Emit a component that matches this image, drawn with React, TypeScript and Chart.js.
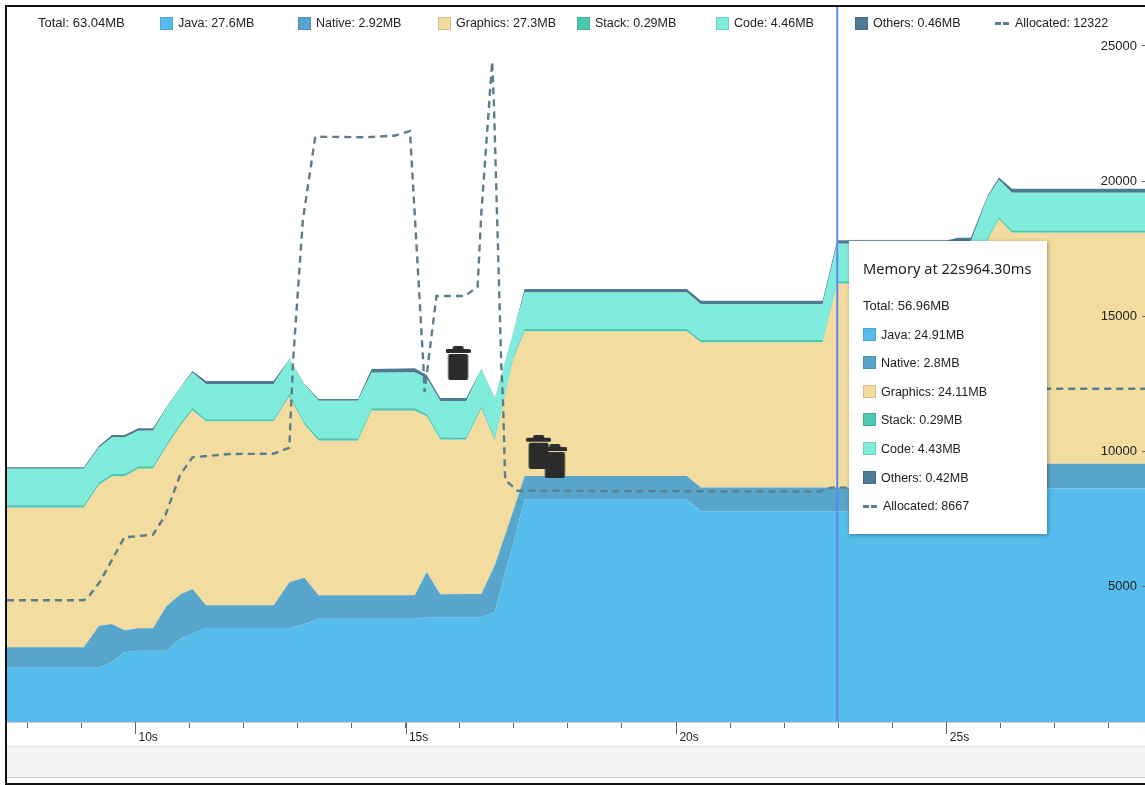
import React, { useEffect, useRef } from "react";
import { Chart, registerables } from "chart.js";

Chart.register(...registerables);

// Time axis, seconds
const X_MIN = 7.63;
const X_MAX = 28.67;
const xTickValues = [8, 9, 10, 11, 12, 13, 14, 15, 16, 17, 18, 19, 20, 21, 22, 23, 24, 25, 26, 27, 28];
const majorTickValues = [10, 15, 20, 25];
const allocTickValues = [5000, 10000, 15000, 20000, 25000];
const MEMORY_MAX = 84.52;
const ALLOC_MAX = 26442;
const cursorTime = 22.98;

// Memory samples, seconds and MB
const times = [7.63, 9.05, 9.33, 9.57, 9.8, 10.06, 10.33, 10.58, 10.84, 11.06, 11.31, 12.56, 12.85, 13.13, 13.39, 14.12, 14.37, 15.17, 15.39, 15.64, 16.12, 16.4, 16.65, 16.99, 17.2, 20.2, 20.46, 22.71, 22.98, 25.02, 25.21, 25.45, 25.76, 25.97, 26.21, 28.67];
const javaMB = [6.42, 6.42, 6.42, 7.13, 8.24, 8.43, 8.43, 8.43, 9.85, 10.44, 11.11, 11.11, 11.11, 11.55, 12.21, 12.21, 12.21, 12.21, 12.33, 12.33, 12.33, 12.33, 13.04, 21.16, 26.28, 26.28, 24.91, 24.91, 24.91, 24.91, 24.91, 24.91, 27.6, 27.6, 27.6, 27.6];
const nativeMB = [2.41, 2.41, 4.96, 4.46, 2.6, 2.65, 2.65, 5.28, 5.25, 5.28, 2.68, 2.68, 5.4, 5.51, 2.77, 2.77, 2.77, 2.77, 5.4, 2.77, 2.8, 2.8, 5.52, 3.78, 2.8, 2.8, 2.8, 2.8, 2.8, 2.8, 2.8, 2.8, 2.92, 2.92, 2.92, 2.92];
const graphicsMB = [16.49, 16.49, 16.65, 17.43, 18.18, 18.85, 18.85, 18.85, 19.95, 21.1, 21.72, 21.72, 21.96, 18.07, 18.26, 18.26, 21.81, 21.81, 18.38, 18.26, 18.22, 21.89, 14.68, 17.91, 17.08, 17.08, 17.16, 17.16, 24.11, 24.11, 24.11, 24.11, 26.42, 28.9, 27.3, 27.3];
const stackMB = [0.29, 0.29, 0.29, 0.29, 0.29, 0.29, 0.29, 0.29, 0.29, 0.29, 0.29, 0.29, 0.29, 0.29, 0.29, 0.29, 0.29, 0.29, 0.29, 0.29, 0.29, 0.29, 0.29, 0.29, 0.29, 0.29, 0.29, 0.29, 0.29, 0.29, 0.29, 0.29, 0.29, 0.29, 0.29, 0.29];
const codeMB = [4.32, 4.32, 4.1, 4.32, 4.32, 4.2, 4.2, 4.28, 4.16, 4.18, 4.15, 4.15, 4.05, 4.44, 4.45, 4.45, 4.2, 4.24, 4.22, 4.3, 4.3, 4.32, 4.67, 2.79, 4.32, 4.32, 4.23, 4.23, 4.43, 4.43, 4.63, 4.63, 4.77, 4.35, 4.46, 4.46];
const othersMB = [0.18, 0.18, 0.2, 0.3, 0.3, 0.3, 0.3, 0.1, 0.1, 0.2, 0.35, 0.35, 0.1, 0.1, 0.2, 0.2, 0.45, 0.5, 0.4, 0.35, 0.35, 0.1, 0.1, 0.1, 0.42, 0.42, 0.42, 0.42, 0.42, 0.42, 0.5, 0.5, 0.2, 0.3, 0.46, 0.46];

// Allocated objects (right axis)
const allocTimes = [7.63, 9.05, 9.14, 9.35, 9.8, 10.33, 10.56, 10.83, 11.06, 11.75, 12.56, 12.85, 12.92, 13.1, 13.33, 14.23, 14.79, 15.08, 15.33, 15.35, 15.57, 16.1, 16.33, 16.4, 16.6, 16.63, 16.77, 16.8, 16.84, 17.07, 22.64, 22.86, 25.45, 25.76, 28.67];
const allocValues = [4500, 4500, 4634, 5189, 6831, 6927, 7655, 9135, 9789, 9911, 9922, 10144, 13388, 18565, 21646, 21623, 21683, 21856, 13129, 12204, 15754, 15754, 16098, 18824, 24420, 23003, 13129, 11908, 8950, 8554, 8520, 8667, 8667, 12322, 12322];

// Garbage collection events
const gcTimes = [15.97, 17.46, 17.76];
const gcLevels = [13277, 9996, 9650];

const COLORS = {
  java: "#56bcec",
  native: "#58a5cb",
  graphics: "#f3dca0",
  stack: "#4cc8b0",
  code: "#80ecdb",
  others: "#4f7a94",
  alloc: "#5b7d8c",
  cursor: "#5c87ee",
};

const legendItems = [
  { label: "Java: 27.6MB", color: COLORS.java, x: 160 },
  { label: "Native: 2.92MB", color: COLORS.native, x: 298 },
  { label: "Graphics: 27.3MB", color: COLORS.graphics, x: 438 },
  { label: "Stack: 0.29MB", color: COLORS.stack, x: 577 },
  { label: "Code: 4.46MB", color: COLORS.code, x: 716 },
  { label: "Others: 0.46MB", color: COLORS.others, x: 855 },
];

const tooltipItems = [
  { label: "Java: 24.91MB", color: COLORS.java, y: 335 },
  { label: "Native: 2.8MB", color: COLORS.native, y: 363 },
  { label: "Graphics: 24.11MB", color: COLORS.graphics, y: 392 },
  { label: "Stack: 0.29MB", color: COLORS.stack, y: 420 },
  { label: "Code: 4.43MB", color: COLORS.code, y: 449 },
  { label: "Others: 0.42MB", color: COLORS.others, y: 478 },
];

const FONT = '"Liberation Sans", Arial, sans-serif';

function trashIcon(): HTMLCanvasElement {
  const c = document.createElement("canvas");
  c.width = 25;
  c.height = 34;
  const g = c.getContext("2d")!;
  g.fillStyle = "#2b2b2b";
  g.beginPath();
  g.roundRect(7, 0, 11, 5, 2);
  g.fill();
  g.beginPath();
  g.roundRect(0, 3, 25, 4, 1.5);
  g.fill();
  g.beginPath();
  g.roundRect(2.5, 8, 20, 26, 2);
  g.fill();
  return c;
}

const pairs = (xs: number[], ys: number[]) => xs.map((x, i) => ({ x, y: ys[i] }));

const area = (label: string, ys: number[], color: string, fill: string | number) => ({
  type: "line" as const,
  label,
  data: pairs(times, ys),
  yAxisID: "y",
  xAxisID: "x",
  backgroundColor: color,
  borderColor: color,
  borderWidth: 0,
  pointRadius: 0,
  tension: 0,
  fill,
});

const majorTicksPlugin = {
  id: "majorTicks",
  afterDraw(chart: any) {
    const { ctx, scales } = chart;
    const sx = scales.x;
    ctx.save();
    ctx.strokeStyle = "#666666";
    ctx.lineWidth = 1;
    majorTickValues.forEach((v) => {
      const px = Math.round(sx.getPixelForValue(v)) + 0.5;
      ctx.beginPath();
      ctx.moveTo(px, sx.top);
      ctx.lineTo(px, sx.top + 12);
      ctx.stroke();
    });
    ctx.restore();
  },
};

function Swatch({ color, x, y, size }: { color: string; x: number; y: number; size: number }) {
  return (
    <div
      style={{
        position: "absolute",
        left: x,
        top: y,
        width: size,
        height: size,
        boxSizing: "border-box",
        background: color,
        border: "1px solid rgba(0,0,0,0.12)",
      }}
    />
  );
}

function Label({ text, x, cy, size = 12.5, font = FONT }: { text: string; x: number; cy: number; size?: number; font?: string }) {
  return (
    <div
      style={{
        position: "absolute",
        left: x,
        top: cy - 10,
        height: 20,
        lineHeight: "20px",
        fontFamily: font,
        fontSize: size,
        color: "#222222",
        whiteSpace: "nowrap",
      }}
    >
      {text}
    </div>
  );
}

function Dash({ x, cy }: { x: number; cy: number }) {
  return (
    <div
      style={{
        position: "absolute",
        left: x,
        top: cy - 1,
        width: 14,
        height: 3,
        background: `linear-gradient(to right, ${COLORS.alloc} 0 6px, transparent 6px 8px, ${COLORS.alloc} 8px 14px)`,
      }}
    />
  );
}

export default function App() {
  const ref = useRef<HTMLCanvasElement>(null);

  useEffect(() => {
    const icon = trashIcon();
    const chart = new Chart(ref.current!, {
      type: "line",
      data: {
        datasets: [
          {
            type: "line",
            label: "Cursor",
            data: [
              { x: cursorTime, y: 0 },
              { x: cursorTime, y: ALLOC_MAX },
            ],
            yAxisID: "y1",
            xAxisID: "x",
            borderColor: COLORS.cursor,
            borderWidth: 2,
            pointRadius: 0,
            fill: false,
          },
          {
            type: "line",
            label: "GC",
            data: pairs(gcTimes, gcLevels),
            yAxisID: "y1",
            xAxisID: "x",
            showLine: false,
            pointStyle: icon,
            pointRadius: 10,
          },
          {
            type: "line",
            label: "Allocated",
            data: pairs(allocTimes, allocValues),
            yAxisID: "y1",
            xAxisID: "x",
            borderColor: COLORS.alloc,
            borderWidth: 2.4,
            borderDash: [7, 5],
            pointRadius: 0,
            tension: 0,
            fill: false,
          },
          area("Java", javaMB, COLORS.java, "origin"),
          area("Native", nativeMB, COLORS.native, "-1"),
          area("Graphics", graphicsMB, COLORS.graphics, "-1"),
          area("Stack", stackMB, COLORS.stack, "-1"),
          area("Code", codeMB, COLORS.code, "-1"),
          area("Others", othersMB, COLORS.others, "-1"),
        ] as any,
      },
      options: {
        animation: false,
        responsive: false,
        layout: { autoPadding: false, padding: { left: 7, top: 7, right: 0, bottom: 0 } },
        plugins: { legend: { display: false }, tooltip: { enabled: false } },
        events: [],
        scales: {
          x: {
            type: "linear",
            min: X_MIN,
            max: X_MAX,
            afterBuildTicks: (s: any) => {
              s.ticks = xTickValues.map((value) => ({ value }));
            },
            afterFit: (s: any) => {
              s.height = 24;
              s.paddingLeft = 0;
              s.paddingRight = 0;
            },
            border: { display: true, color: "#cfcfcf", width: 1 },
            grid: { drawOnChartArea: false, drawTicks: true, tickLength: 6, tickColor: "#666666" },
            ticks: {
              autoSkip: false,
              maxRotation: 0,
              padding: 2,
              labelOffset: 13,
              color: "#222222",
              font: { family: FONT, size: 12 },
              callback: (v: any) => (majorTickValues.includes(v) ? `${v}s` : ""),
            },
          },
          y: {
            display: false,
            stacked: true,
            min: 0,
            max: MEMORY_MAX,
          },
          y1: {
            type: "linear",
            position: "right",
            min: 0,
            max: ALLOC_MAX,
            afterBuildTicks: (s: any) => {
              s.ticks = allocTickValues.map((value) => ({ value }));
            },
            afterFit: (s: any) => {
              s.width = 0;
              s.paddingTop = 0;
              s.paddingBottom = 0;
            },
            border: { display: false },
            grid: { drawOnChartArea: false, drawTicks: true, tickLength: -3, tickColor: "#666666", z: 1 },
            ticks: {
              mirror: true,
              padding: -8,
              z: 1,
              color: "#222222",
              font: { family: FONT, size: 13 },
              callback: (v: any) => String(v),
            },
          },
        },
      } as any,
      plugins: [majorTicksPlugin],
    });
    return () => chart.destroy();
  }, []);

  return (
    <div style={{ position: "fixed", left: 0, top: 0, width: 1145, height: 785, overflow: "hidden", background: "#ffffff", filter: "blur(0.4px)" }}>
      <canvas ref={ref} width={1145} height={746} style={{ position: "absolute", left: 0, top: 0, display: "block" }} />

      {/* Strip under the time axis */}
      <div
        style={{
          position: "absolute",
          left: 7,
          right: 0,
          top: 746,
          height: 32,
          boxSizing: "border-box",
          background: "#f3f3f3",
          borderTop: "1px solid #e6e6e6",
          borderBottom: "1px solid #c8c8c8",
        }}
      />

      {/* Frame */}
      <div style={{ position: "absolute", left: 5, top: 5, width: 1140, height: 2, background: "#111111" }} />
      <div style={{ position: "absolute", left: 5, top: 5, width: 2, height: 780, background: "#111111" }} />
      <div style={{ position: "absolute", left: 5, top: 783, width: 1140, height: 2, background: "#111111" }} />

      {/* Legend */}
      <Label text="Total: 63.04MB" x={38} cy={23} size={13} />
      {legendItems.map((it) => (
        <React.Fragment key={it.label}>
          <Swatch color={it.color} x={it.x} y={17} size={13} />
          <Label text={it.label} x={it.x + 18} cy={23} />
        </React.Fragment>
      ))}
      <Dash x={995} cy={23} />
      <Label text="Allocated: 12322" x={1015} cy={23} />

      {/* Tooltip */}
      <div
        style={{
          position: "absolute",
          left: 849,
          top: 241,
          width: 198,
          height: 293,
          background: "#ffffff",
          boxShadow: "1px 1px 4px rgba(0,0,0,0.35)",
        }}
      />
      <Label text="Memory at 22s964.30ms" x={863} cy={268} size={14.6} font='"Noto Sans", sans-serif' />
      <Label text="Total: 56.96MB" x={863} cy={306} size={13} />
      {tooltipItems.map((it) => (
        <React.Fragment key={it.label}>
          <Swatch color={it.color} x={863} y={it.y - 7} size={13} />
          <Label text={it.label} x={881} cy={it.y} />
        </React.Fragment>
      ))}
      <Dash x={863} cy={506} />
      <Label text="Allocated: 8667" x={883} cy={506} />
    </div>
  );
}
